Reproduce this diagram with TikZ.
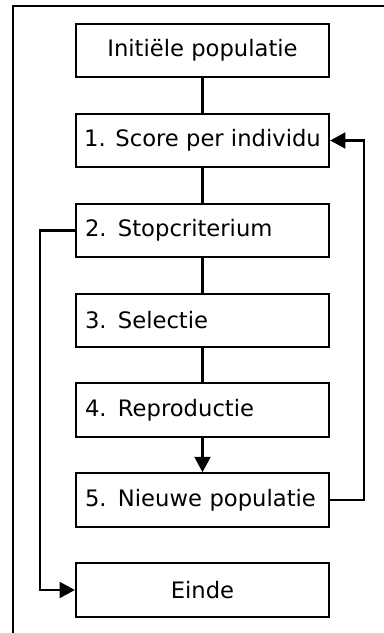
\documentclass[tikz,border=0pt]{standalone}
\usepackage{fontspec}
\setmainfont{DejaVu Sans}
\usetikzlibrary{arrows.meta}
\begin{document}
\begin{tikzpicture}[x=0.75pt,y=-0.75pt,
  box/.style={draw=black,line width=1.7pt,minimum width=189.75pt,minimum height=40.1pt,
    font=\fontsize{17pt}{20pt}\selectfont},
  boxc/.style={box,align=center},
  boxl/.style={box,align=left,inner xsep=6.75pt,text width=176.25pt},
  link/.style={line width=1.7pt},
  arr/.style={link,-{Triangle[length=11.5pt,width=12pt]}}]
\useasboundingbox (0,0) rectangle (384,633);
\draw[line width=0.9pt] (13,640) -- (13,6) -- (390,6);
\node[boxc] (n0) at (202.5,50.5) {Initiële populatie};
\node[boxc] (n1) at (202.5,140.5) {1. Score per individu};
\node[boxl] (n2) at (202.5,230.5) {2. Stopcriterium};
\node[boxl] (n3) at (202.5,320.5) {3. Selectie};
\node[boxl] (n4) at (202.5,410) {4. Reproductie};
\node[boxl] (n5) at (202.5,500) {5. Nieuwe populatie};
\node[boxc] (n6) at (202.5,590) {Einde};
\draw[link] (n0) -- (n1);
\draw[link] (n1) -- (n2);
\draw[link] (n2) -- (n3);
\draw[link] (n3) -- (n4);
\draw[arr] (n4) -- (n5);
\coordinate (r) at (364,0);
\coordinate (l) at (40,0);
\draw[arr] (n5.east) -- (n5.east -| r) -- (n1.east -| r) -- (n1.east);
\draw[arr] (n2.west) -- (n2.west -| l) -- (n6.west -| l) -- (n6.west);
\end{tikzpicture}
\end{document}
